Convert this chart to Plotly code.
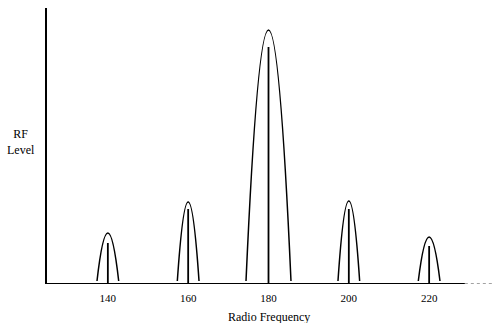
import plotly.graph_objects as go

# spectrum (frequency units, RF level in arbitrary units)
freqs = [140, 160, 180, 200, 220]
carrier_level = [41, 75, 237, 75, 38]
envelope_peak = [51, 82, 254, 83, 47]
envelope_halfwidth = [2.7, 2.7, 5.6, 2.7, 2.7]
envelope_base = 3
tick_labels = ["140", "160", "180", "200", "220"]

FONT = "Liberation Serif"

fig = go.Figure()

# carrier lines: one trace, segments split by None
xs, ys = [], []
for f, lvl in zip(freqs, carrier_level):
    xs += [f, f, None]
    ys += [0, lvl, None]
fig.add_trace(go.Scatter(x=xs, y=ys, mode="lines", line=dict(color="black", width=1.8),
                         hoverinfo="skip", showlegend=False))

# envelope arches as quadratic bezier paths in data coords
shapes = []
for f, h, w in zip(freqs, envelope_peak, envelope_halfwidth):
    ctrl = 2 * h - envelope_base
    shapes.append(dict(type="path", xref="x", yref="y",
                       path=f"M {f - w},{envelope_base} Q {f},{ctrl} {f + w},{envelope_base}",
                       line=dict(color="black", width=1.5)))

# axes drawn by hand: the baseline turns dotted near the right end
shapes.append(dict(type="line", xref="paper", yref="y", x0=0, x1=0.937, y0=0, y1=0,
                   line=dict(color="black", width=2)))
shapes.append(dict(type="line", xref="paper", yref="y", x0=0.937, x1=1, y0=0, y1=0,
                   line=dict(color="#444", width=1, dash="dot")))
shapes.append(dict(type="line", xref="paper", yref="paper", x0=0, x1=0, y0=0, y1=1,
                   line=dict(color="black", width=2)))

fig.update_layout(
    width=495, height=323,
    margin=dict(l=46, r=2, t=8, b=39),
    paper_bgcolor="white", plot_bgcolor="white",
    showlegend=False,
    shapes=shapes,
    font=dict(family=FONT, color="black"),
    annotations=[
        dict(text="RF<br>Level", xref="paper", yref="paper", x=-0.056, y=0.514,
             xanchor="center", yanchor="middle",
             showarrow=False, font=dict(size=12, family=FONT), align="center"),
        dict(text="Radio Frequency", xref="paper", yref="paper", x=0.499, y=0,
             xanchor="center", yanchor="middle", yshift=-33, showarrow=False,
             font=dict(size=12, family=FONT)),
    ],
)
fig.update_xaxes(range=[124.6, 235.9], tickvals=freqs, ticktext=tick_labels,
                 ticks="outside", ticklen=4, tickcolor="rgba(0,0,0,0)",
                 tickfont=dict(size=11, family=FONT), showgrid=False, zeroline=False,
                 showline=False)
fig.update_yaxes(range=[0, 276], showticklabels=False, showgrid=False, zeroline=False,
                 showline=False, ticks="")

# drop the browser's default body margin so the figure sits at the page corner
fig.write_html("out.html", config={"displayModeBar": False},
               post_script="document.body.style.margin='0';")
